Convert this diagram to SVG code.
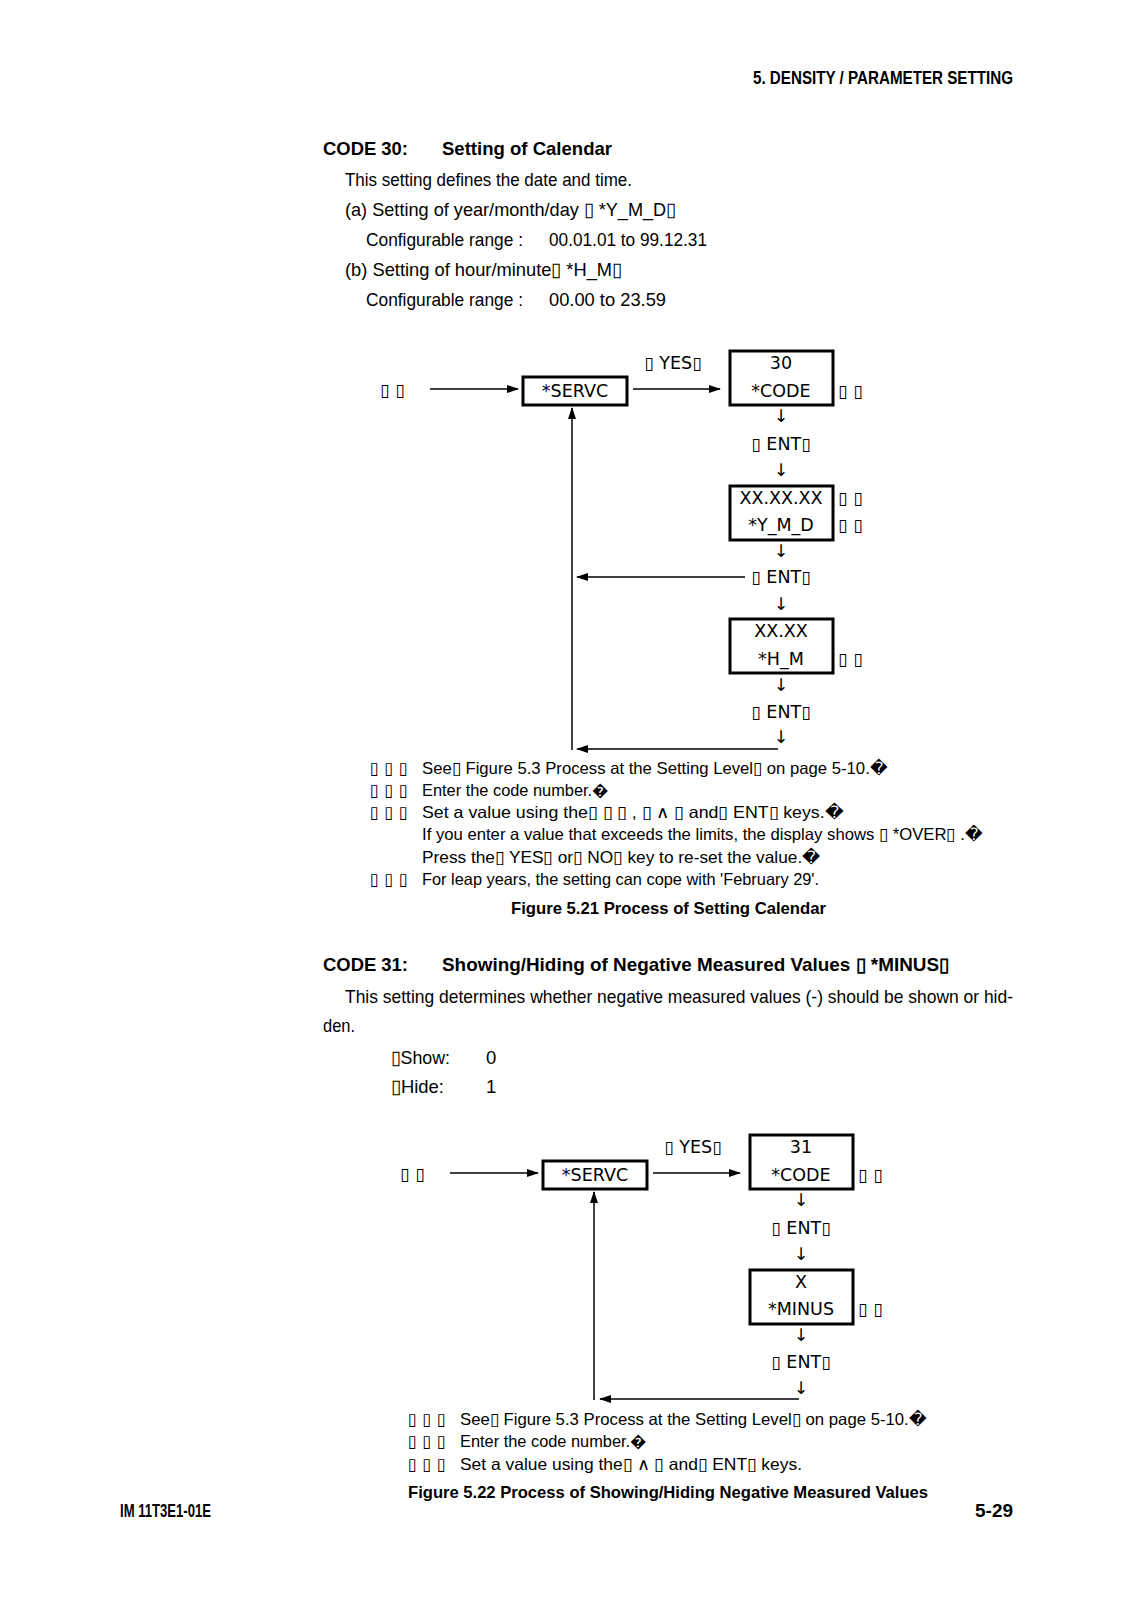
<svg xmlns="http://www.w3.org/2000/svg" width="1131" height="1600" viewBox="0 0 1131 1600">
<style>
.t{font-family:"Liberation Sans Narrow","Liberation Sans",Arial,sans-serif;font-size:18.5px;fill:#000}
.tb{font-family:"Liberation Sans Narrow","Liberation Sans",Arial,sans-serif;font-size:19px;font-weight:bold;fill:#000}
.n{font-family:"Liberation Sans Narrow","Liberation Sans",Arial,sans-serif;font-size:16.5px;fill:#000}
.cap{font-family:"Liberation Sans",Arial,sans-serif;font-size:16.5px;font-weight:bold;fill:#000}
.d{font-family:"DejaVu Sans",sans-serif;font-size:17.5px;fill:#000}
.dm{font-family:"DejaVu Sans",sans-serif;font-size:17.5px;fill:#000;text-anchor:middle}
.mk{font-family:"DejaVu Sans",sans-serif;font-size:16.5px;fill:#000}
.box{fill:#fff;stroke:#000;stroke-width:3}
.ln{fill:none;stroke:#000;stroke-width:1.5}
</style>
<defs>
<marker id="ah" markerWidth="12" markerHeight="8" refX="11" refY="4" orient="auto" markerUnits="userSpaceOnUse"><path d="M0,0 L12,4 L0,8 z" fill="#000"/></marker>
</defs>
<rect width="1131" height="1600" fill="#fff"/>

<text class="tb" x="753" y="84" font-size="15.5" textLength="260" lengthAdjust="spacingAndGlyphs">5. DENSITY / PARAMETER SETTING</text>

<text class="tb" x="323" y="155" textLength="85" lengthAdjust="spacingAndGlyphs">CODE 30:</text>
<text class="tb" x="442" y="155" textLength="170" lengthAdjust="spacingAndGlyphs">Setting of Calendar</text>
<text class="t" x="345" y="186" textLength="287" lengthAdjust="spacingAndGlyphs">This setting defines the date and time.</text>
<text class="t" x="345" y="216" textLength="331" lengthAdjust="spacingAndGlyphs">(a) Setting of year/month/day ▯ *Y_M_D▯</text>
<text class="t" x="366" y="246" textLength="157" lengthAdjust="spacingAndGlyphs">Configurable range :</text>
<text class="t" x="549" y="246" textLength="158" lengthAdjust="spacingAndGlyphs">00.01.01 to 99.12.31</text>
<text class="t" x="345" y="276" textLength="277" lengthAdjust="spacingAndGlyphs">(b) Setting of hour/minute▯ *H_M▯</text>
<text class="t" x="366" y="306" textLength="157" lengthAdjust="spacingAndGlyphs">Configurable range :</text>
<text class="t" x="549" y="306" textLength="117" lengthAdjust="spacingAndGlyphs">00.00  to 23.59</text>

<g id="connectors1">
<line class="ln" x1="430" y1="389" x2="518" y2="389" marker-end="url(#ah)"/>
<line class="ln" x1="633" y1="389" x2="720" y2="389" marker-end="url(#ah)"/>
<line class="ln" x1="745" y1="577" x2="577" y2="577" marker-end="url(#ah)"/>
<line class="ln" x1="778" y1="749" x2="577" y2="749" marker-end="url(#ah)"/>
<line class="ln" x1="572" y1="750" x2="572" y2="408" marker-end="url(#ah)"/>
<text class="dm" x="673" y="369">▯ YES▯</text>
<text class="dm" x="781" y="422">↓</text>
<text class="dm" x="781" y="450">▯ ENT▯</text>
<text class="dm" x="781" y="476">↓</text>
<text class="dm" x="781" y="557">↓</text>
<text class="dm" x="781" y="583">▯ ENT▯</text>
<text class="dm" x="781" y="610">↓</text>
<text class="dm" x="781" y="691">↓</text>
<text class="dm" x="781" y="718">▯ ENT▯</text>
<text class="dm" x="781" y="743">↓</text>
</g>

<g id="start1"><text class="d" x="380" y="396">▯  ▯</text></g>
<g id="servc1">
<rect class="box" x="523" y="377" width="104" height="28"/>
<text class="dm" x="575" y="397">*SERVC</text>
</g>
<g id="code30">
<rect class="box" x="730" y="351" width="103" height="54"/>
<text class="dm" x="781" y="369">30</text>
<text class="dm" x="781" y="397">*CODE</text>
<text class="d" x="838" y="397">▯  ▯</text>
</g>
<g id="ymd">
<rect class="box" x="730" y="486" width="103" height="54"/>
<text class="dm" x="781" y="504">XX.XX.XX</text>
<text class="dm" x="781" y="531">*Y_M_D</text>
<text class="d" x="838" y="504">▯  ▯</text>
<text class="d" x="838" y="531">▯  ▯</text>
</g>
<g id="hm">
<rect class="box" x="730" y="619" width="103" height="54"/>
<text class="dm" x="781" y="637">XX.XX</text>
<text class="dm" x="781" y="665">*H_M</text>
<text class="d" x="838" y="665">▯  ▯</text>
</g>

<g id="notes1">
<text class="mk" x="370" y="774" textLength="38" lengthAdjust="spacing">▯ ▯ ▯</text>
<text class="n" x="422" y="774" textLength="465" lengthAdjust="spacingAndGlyphs">See▯ Figure 5.3  Process at the Setting Level▯ on page 5-10.�</text>
<text class="mk" x="370" y="796" textLength="38" lengthAdjust="spacing">▯ ▯ ▯</text>
<text class="n" x="422" y="796" textLength="187" lengthAdjust="spacingAndGlyphs">Enter the code number.�</text>
<text class="mk" x="370" y="818" textLength="38" lengthAdjust="spacing">▯ ▯ ▯</text>
<text class="n" x="422" y="818" textLength="421" lengthAdjust="spacingAndGlyphs">Set a value using the▯ ▯ ▯ , ▯ ∧ ▯ and▯ ENT▯ keys.�</text>
<text class="n" x="422" y="840" textLength="560" lengthAdjust="spacingAndGlyphs">If you enter a value that exceeds the limits, the display shows ▯ *OVER▯ .�</text>
<text class="n" x="422" y="863" textLength="398" lengthAdjust="spacingAndGlyphs">Press the▯ YES▯ or▯ NO▯ key to re-set the value.�</text>
<text class="mk" x="370" y="885" textLength="38" lengthAdjust="spacing">▯ ▯ ▯</text>
<text class="n" x="422" y="885" textLength="397" lengthAdjust="spacingAndGlyphs">For leap years, the setting can cope with 'February 29'.</text>
</g>
<text class="cap" x="511" y="914" textLength="315" lengthAdjust="spacingAndGlyphs">Figure 5.21 Process of Setting Calendar</text>

<text class="tb" x="323" y="971" textLength="85" lengthAdjust="spacingAndGlyphs">CODE 31:</text>
<text class="tb" x="442" y="971" textLength="507" lengthAdjust="spacingAndGlyphs">Showing/Hiding of Negative Measured Values ▯ *MINUS▯</text>
<text class="t" x="345" y="1003" textLength="668" lengthAdjust="spacingAndGlyphs">This setting determines whether negative measured values (-) should be shown or hid-</text>
<text class="t" x="323" y="1032" textLength="32" lengthAdjust="spacingAndGlyphs">den.</text>
<text class="t" x="391" y="1064" textLength="59" lengthAdjust="spacingAndGlyphs">▯Show:</text>
<text class="t" x="486" y="1064">0</text>
<text class="t" x="391" y="1093" textLength="53" lengthAdjust="spacingAndGlyphs">▯Hide:</text>
<text class="t" x="486" y="1093">1</text>

<g id="connectors2">
<line class="ln" x1="450" y1="1173" x2="538" y2="1173" marker-end="url(#ah)"/>
<line class="ln" x1="653" y1="1173" x2="740" y2="1173" marker-end="url(#ah)"/>
<line class="ln" x1="799" y1="1399" x2="600" y2="1399" marker-end="url(#ah)"/>
<line class="ln" x1="594" y1="1400" x2="594" y2="1192" marker-end="url(#ah)"/>
<text class="dm" x="693" y="1153">▯ YES▯</text>
<text class="dm" x="801" y="1206">↓</text>
<text class="dm" x="801" y="1234">▯ ENT▯</text>
<text class="dm" x="801" y="1260">↓</text>
<text class="dm" x="801" y="1341">↓</text>
<text class="dm" x="801" y="1368">▯ ENT▯</text>
<text class="dm" x="801" y="1394">↓</text>
</g>

<g id="start2"><text class="d" x="400" y="1180">▯  ▯</text></g>
<g id="servc2">
<rect class="box" x="543" y="1161" width="104" height="28"/>
<text class="dm" x="595" y="1181">*SERVC</text>
</g>
<g id="code31">
<rect class="box" x="750" y="1135" width="103" height="54"/>
<text class="dm" x="801" y="1153">31</text>
<text class="dm" x="801" y="1181">*CODE</text>
<text class="d" x="858" y="1181">▯  ▯</text>
</g>
<g id="minus">
<rect class="box" x="750" y="1270" width="103" height="54"/>
<text class="dm" x="801" y="1288">X</text>
<text class="dm" x="801" y="1315">*MINUS</text>
<text class="d" x="858" y="1315">▯  ▯</text>
</g>

<g id="notes2">
<text class="mk" x="408" y="1425" textLength="38" lengthAdjust="spacing">▯ ▯ ▯</text>
<text class="n" x="460" y="1425" textLength="466" lengthAdjust="spacingAndGlyphs">See▯ Figure 5.3  Process at the Setting Level▯ on page 5-10.�</text>
<text class="mk" x="408" y="1447" textLength="38" lengthAdjust="spacing">▯ ▯ ▯</text>
<text class="n" x="460" y="1447" textLength="187" lengthAdjust="spacingAndGlyphs">Enter the code number.�</text>
<text class="mk" x="408" y="1470" textLength="38" lengthAdjust="spacing">▯ ▯ ▯</text>
<text class="n" x="460" y="1470" textLength="342" lengthAdjust="spacingAndGlyphs">Set a value using the▯ ∧ ▯ and▯ ENT▯ keys.</text>
</g>
<text class="cap" x="408" y="1498" textLength="520" lengthAdjust="spacingAndGlyphs">Figure 5.22 Process of Showing/Hiding Negative Measured Values</text>

<text class="tb" x="120" y="1517" font-size="13" textLength="91" lengthAdjust="spacingAndGlyphs">IM 11T3E1-01E</text>
<text class="tb" x="975" y="1517" font-size="19" textLength="38" lengthAdjust="spacingAndGlyphs">5-29</text>
</svg>
